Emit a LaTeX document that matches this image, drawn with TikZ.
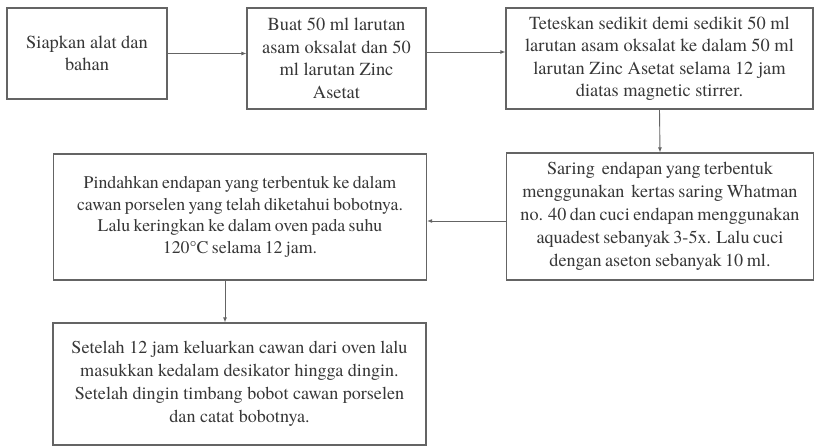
\documentclass[tikz,border=0pt]{standalone}
\usepackage{fontspec}
\setmainfont{texgyretermes-regular.otf}
\usetikzlibrary{arrows.meta}
\definecolor{linec}{RGB}{100,100,100}
\definecolor{textc}{RGB}{55,55,55}
\newcommand{\tightsp}{\spaceskip=0.19em plus 0.05em\relax}
\begin{document}
\begin{tikzpicture}[x=1pt,y=-1pt,
  box/.style={draw=linec, line width=1.2pt, align=center, text=textc, inner sep=0pt,
    font=\fontsize{18.4}{22.5}\selectfont},
  conn/.style={draw=linec, line width=0.9pt, -{Latex[length=5pt,width=4pt]}}]
\useasboundingbox[fill=white] (0,0) rectangle (815,447);
\node[box, minimum width=160pt, minimum height=91pt] (b1) at (87,53.5)
  {Siapkan alat dan\\bahan};
\node[box, minimum width=179pt, minimum height=101pt] (b2) at (336.5,58.5)
  {Buat 50 ml larutan\\asam oksalat dan 50\\ml larutan Zinc\\Asetat};
\node[box, minimum width=307pt, minimum height=101pt] (b3) at (659.5,58.5)
  {Teteskan sedikit demi sedikit 50 ml\\larutan asam oksalat ke dalam 50 ml\\larutan Zinc Asetat selama 12 jam\\diatas magnetic stirrer.};
\node[box, minimum width=307pt, minimum height=127pt, font=\fontsize{18.2}{23}\selectfont] (b4) at (660,216.5)
  {\tightsp Saring\ \ endapan yang terbentuk\\\tightsp menggunakan\ \ kertas saring Whatman\\\tightsp no. 40 dan cuci endapan menggunakan\\\tightsp aquadest sebanyak 3-5x. Lalu cuci\\\tightsp dengan aseton sebanyak 10 ml.};
\node[box, minimum width=373pt, minimum height=126pt, font=\fontsize{17.8}{21.7}\selectfont] (b5) at (240,217)
  {\tightsp Pindahkan endapan yang terbentuk ke dalam\\\tightsp cawan porselen yang telah diketahui bobotnya.\\\tightsp Lalu keringkan ke dalam oven pada suhu\\\tightsp 120\textdegree C selama 12 jam.};
\node[box, minimum width=373pt, minimum height=122pt, font=\fontsize{18.1}{23}\selectfont] (b6) at (239.5,384)
  {Setelah 12 jam keluarkan cawan dari oven lalu\\masukkan kedalam desikator hingga dingin.\\Setelah dingin timbang bobot cawan porselen\\dan catat bobotnya.};
\draw[conn] (b1.east) -- (b2.west |- b1.east);
\draw[conn] ([yshift=6.5pt]b2.east) -- ([yshift=6.5pt]b2.east -| b3.west);
\draw[conn] (b3.south) -- (b4.north);
\draw[conn] ([yshift=-4.5pt]b4.west) -- ([yshift=-4.5pt]b4.west -| b5.east);
\draw[conn] ([xshift=-15pt]b5.south) -- ([xshift=-15pt]b5.south |- b6.north);
\end{tikzpicture}
\end{document}
